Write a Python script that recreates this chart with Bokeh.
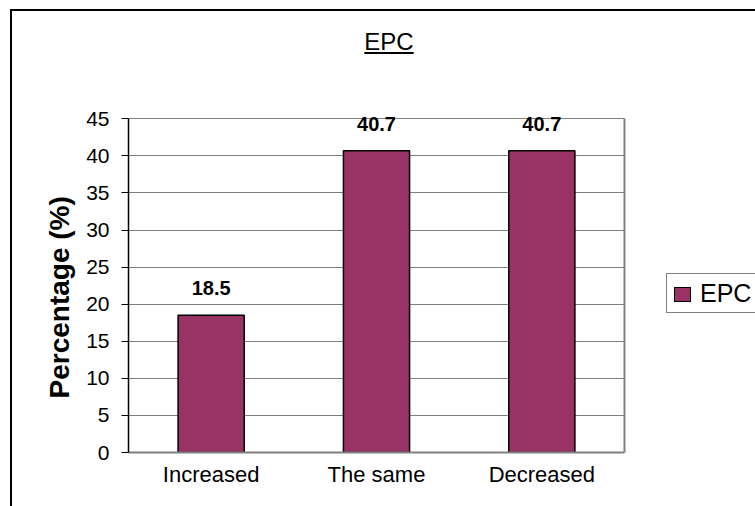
from bokeh.plotting import figure
from bokeh.layouts import column, row
from bokeh.models import (ColumnDataSource, FactorRange, Range1d, FixedTicker, Div, LinearAxis,
                          Title)
from bokeh.core.properties import value
from bokeh.embed import file_html
from bokeh.resources import INLINE

categories = ["Increased", "The same", "Decreased"]
epc_values = [18.5, 40.7, 40.7]
value_labels = ["18.5", "40.7", "40.7"]
y_ticks = [0, 5, 10, 15, 20, 25, 30, 35, 40, 45]
y_min, y_max = 0, 45
title_text = "EPC"
series_name = "EPC"
y_label = "Percentage (%)"

FONT = "Liberation Sans"
BAR = "#993366"

src = ColumnDataSource(dict(cat=categories, val=epc_values, lab=value_labels))

# page geometry
OX, OY, BW = 10, 9, 2          # outer border position and width
X0, Y0 = OX + BW, OY + BW      # content origin
TOP = 60                       # where the figure starts (page px)
DIV_H = TOP - Y0
FL, FR, FB = 128, 624, 452     # frame edges in page pixels
HEADROOM = 3                   # extra y units above the axis top so labels are not clipped
FT = 96
RPAD = 2
FIG_W = FR - X0 + RPAD
FIG_H = 506 - TOP
LEG_W = 755 - X0 - FIG_W

p = figure(width=FIG_W, height=FIG_H, x_range=FactorRange(*categories),
           y_range=Range1d(y_min, y_max + HEADROOM),
           output_backend="svg", toolbar_location=None,
           min_border_left=FL - X0, min_border_right=RPAD,
           min_border_top=FT - TOP, min_border_bottom=FIG_H - (FB - TOP))
p.background_fill_color = "white"
p.border_fill_color = "white"
p.outline_line_color = None
p.x_range.range_padding = 0

r = p.vbar(x="cat", top="val", width=0.4, source=src, fill_color=BAR,
           line_color="black", line_width=1.5)

p.text(x="cat", y="val", text="lab", source=src, text_align="center",
       text_baseline="alphabetic", y_offset=-27, text_font=value(FONT),
       text_font_size="20px", text_font_style="bold", text_color="black")

p.xgrid.grid_line_color = None
p.ygrid.grid_line_color = "#808080"
p.ygrid.grid_line_width = 1
p.yaxis.ticker = FixedTicker(ticks=y_ticks)
p.yaxis.bounds = (y_min, y_max)

p.yaxis.axis_line_color = "black"
p.yaxis.axis_line_width = 1.5
p.yaxis.major_tick_line_color = "black"
p.yaxis.major_tick_out = 7
p.yaxis.major_tick_in = 0
p.yaxis.minor_tick_line_color = None
p.yaxis.major_label_standoff = 12
p.yaxis.major_label_text_font = FONT
p.yaxis.major_label_text_font_size = "21px"
p.yaxis.major_label_text_color = "black"

# y-axis title, placed along the axis like the reference
y_title = Title(text=y_label, align="left", offset=54, standoff=18,
                text_font=FONT, text_font_size="28px", text_font_style="bold",
                text_color="black")
p.add_layout(y_title, "left")

# right edge of the plot area (gray), limited to the axis range
right_edge = LinearAxis(bounds=(y_min, y_max), ticker=FixedTicker(ticks=[]),
                        axis_line_color="#808080", axis_line_width=2,
                        major_tick_line_color=None, minor_tick_line_color=None,
                        major_label_text_font_size="0px")
p.add_layout(right_edge, "right")
p.min_border_right = RPAD

p.xaxis.axis_line_color = "#808080"
p.xaxis.axis_line_width = 2
p.xaxis.major_tick_line_color = None
p.xaxis.minor_tick_line_color = None
p.xaxis.major_label_standoff = 3
p.xaxis.major_label_text_font = FONT
p.xaxis.major_label_text_font_size = "22px"
p.xaxis.major_label_text_color = "black"

title_html = (
    '<div style="position:absolute; left:%dpx; top:19px; transform:translateX(-50%%); '
    'font-family:\'Liberation Sans\'; font-size:24px; line-height:24px; color:black; '
    'text-decoration:underline; text-decoration-thickness:2px; text-underline-offset:2px; '
    'white-space:nowrap;">%s</div>' % (389 - X0, title_text)
)
title_div = Div(text=title_html, width=755 - X0, height=DIV_H, margin=0,
                styles={"position": "relative", "background": "white"})

LX = 666 - (X0 + FIG_W)      # legend box left inside the legend column
LY = 273 - TOP               # legend box top
legend_html = (
    '<div style="position:absolute; left:%dpx; top:%dpx; width:110px; height:40px; '
    'border:1.5px solid #808080; background:white; box-sizing:border-box;">'
    '<div style="position:absolute; left:7px; top:13px; width:17px; height:15px; '
    'box-sizing:border-box; border:1.5px solid black; background:%s;"></div>'
    '<div style="position:absolute; left:33px; top:7px; font-family:\'Liberation Sans\'; '
    'font-size:25px; line-height:25px; color:black; white-space:nowrap;">%s</div>'
    '</div>' % (LX, LY, BAR, series_name)
)
legend_div = Div(text=legend_html, width=LEG_W, height=FIG_H, margin=0,
                 styles={"position": "relative", "overflow": "hidden", "background": "white"})

page = column(title_div, row(p, legend_div, spacing=0, margin=0), margin=(OY, 0, 0, OX),
              spacing=0,
              styles={"border-left": "2px solid black", "border-top": "2px solid black",
                      "background": "white"})

open("out.html", "w").write(file_html(page, INLINE))
